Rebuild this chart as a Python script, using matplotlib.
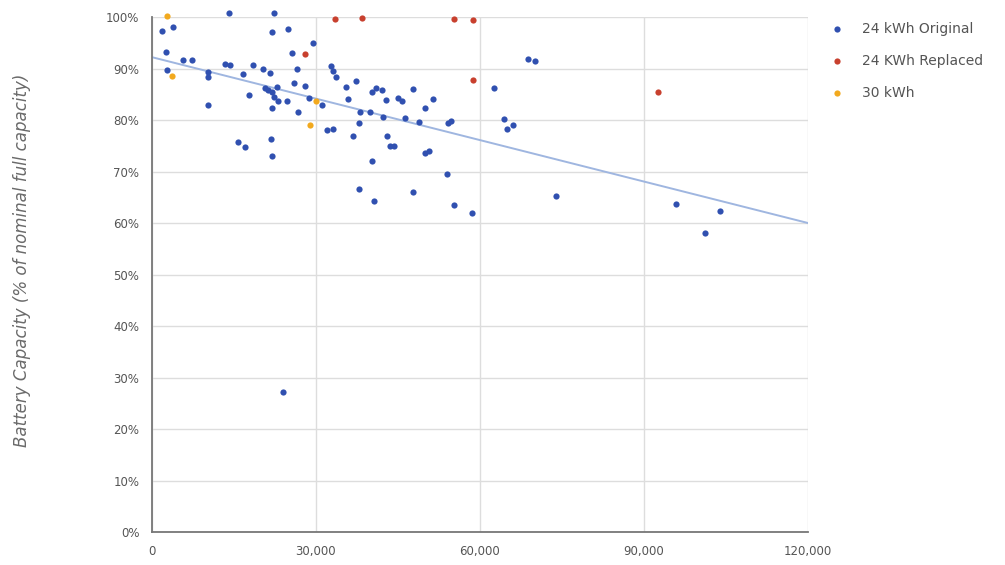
import matplotlib.pyplot as plt

# values (odometer km, battery capacity %)
orig_km = [1774, 3786, 14138, 22314, 22003, 24820, 29540, 2616, 25700, 5725,
           7261, 2689, 10297, 10297, 13352, 14266, 16699, 18528, 20393, 21582,
           26465, 32831, 33050, 33709, 37312, 35483, 25972, 28039, 20668, 21271,
           21893, 22808, 22314, 23100, 24637, 21893, 17833, 10297, 26648, 28770,
           31038, 31953, 33160, 35904, 40184, 41025, 42013, 42745, 45050, 45782,
           47794, 51452, 49932, 38100, 39872, 37915, 42195, 46329, 48779, 54193,
           54632, 15784, 17010, 21710, 22040, 36763, 42927, 43585, 44353, 50023,
           50718, 40238, 53900, 37915, 47794, 40659, 55236, 58474, 62606, 68825,
           70051, 64381, 64875, 66082, 73838, 95840, 103887, 101144, 23905]
orig_cap = [97.3, 98.1, 100.7, 100.7, 97.0, 97.7, 94.9, 93.2, 93.1, 91.7,
            91.7, 89.7, 89.4, 88.4, 90.9, 90.7, 89.0, 90.7, 90.0, 89.2,
            90.0, 90.4, 89.5, 88.3, 87.5, 86.5, 87.1, 86.6, 86.2, 85.8,
            85.5, 86.5, 84.5, 83.6, 83.6, 82.3, 84.9, 83.0, 81.6, 84.2,
            82.9, 78.1, 78.2, 84.1, 85.5, 86.2, 85.8, 83.9, 84.3, 83.6,
            86.0, 84.0, 82.4, 81.5, 81.5, 79.5, 80.6, 80.3, 79.6, 79.4,
            79.8, 75.8, 74.8, 76.4, 73.1, 76.8, 76.8, 74.9, 75.0, 73.5,
            73.9, 72.0, 69.5, 66.6, 66.0, 64.3, 63.4, 62.0, 86.2, 91.8,
            91.5, 80.2, 78.3, 79.0, 65.2, 63.7, 62.4, 58.0, 27.2]

repl_km = [33471, 38464, 55290, 58766, 58656, 27984, 92603]
repl_cap = [99.7, 99.9, 99.7, 99.5, 87.8, 92.9, 85.5]

kwh30_km = [2689, 3603, 29942, 28953]
kwh30_cap = [100.2, 88.6, 83.6, 79.0]

trend_km = [0, 120000]
trend_cap = [92.2, 60.0]

xticks = [0, 30000, 60000, 90000, 120000]
yticks = list(range(0, 101, 10))

fig = plt.figure(figsize=(10.05, 5.65), dpi=100)
ax = fig.add_axes([0.1512, 0.0584, 0.6527, 0.9115])

ax.plot(trend_km, trend_cap, color='#9fb6e0', lw=1.4, zorder=2)
ax.scatter(orig_km, orig_cap, s=20, color='#3050b0', label='24 kWh Original',
           zorder=3, clip_on=False, linewidths=0)
ax.scatter(repl_km, repl_cap, s=20, color='#c8402e', label='24 KWh Replaced',
           zorder=3, clip_on=False, linewidths=0)
ax.scatter(kwh30_km, kwh30_cap, s=20, color='#f2a91e', label='30 kWh',
           zorder=3, clip_on=False, linewidths=0)

ax.set_xlim(0, 120000)
ax.set_ylim(0, 100)
ax.set_xticks(xticks)
ax.set_xticklabels([f'{v:,}' for v in xticks])
ax.set_yticks(yticks)
ax.set_yticklabels([f'{v}%' for v in yticks])
ax.tick_params(length=0, labelsize=8.5, labelcolor='#555555', pad=9)
ax.grid(True, color='#dddddd', lw=1)
ax.set_axisbelow(True)
for s in ['top', 'right']:
    ax.spines[s].set_visible(False)
for s in ['left', 'bottom']:
    ax.spines[s].set_color('#777777')
    ax.spines[s].set_linewidth(1.3)

fig.text(0.022, 0.54, 'Battery Capacity (% of nominal full capacity)',
         rotation=90, ha='center', va='center', style='italic',
         fontsize=12, color='#6a6a6a')

fig.legend(loc='upper left', bbox_to_anchor=(0.812, 0.974), frameon=False,
           fontsize=10, labelcolor='#555555', handletextpad=0.8,
           labelspacing=1.3, markerscale=1.0, borderpad=0)

fig.savefig('out.png', dpi=100)
